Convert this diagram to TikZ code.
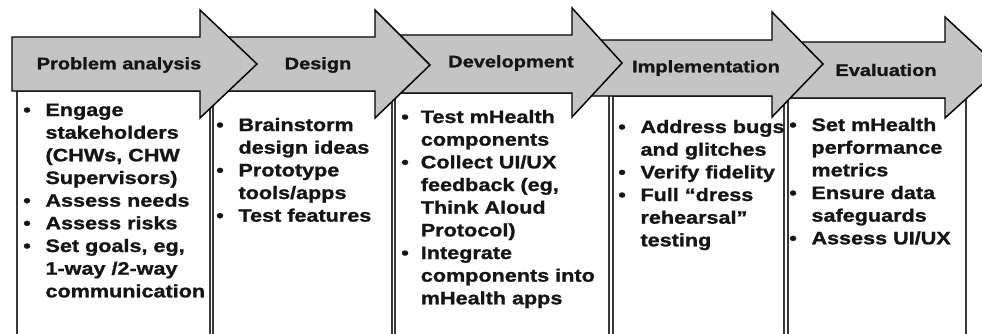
\documentclass[tikz,border=0pt]{standalone}
\usepackage{fontspec}
\setmainfont{Liberation Sans}[FakeStretch=1.2, BoldFeatures={FakeBold=1.2}]
\usepackage{tikz}
\usetikzlibrary{positioning}
\definecolor{arrowgray}{HTML}{C4C4C4}
\definecolor{inkgray}{HTML}{151515}
\tikzstyle{stage_arrow} = [fill=arrowgray, draw=black, line width=1.1pt, line join=miter]
\tikzstyle{stage_box} = [draw=inkgray!85, line width=1.6pt, fill=white]
\tikzstyle{stage_head} = [inner sep=0pt, text=inkgray, font=\fontsize{12.5}{14}\selectfont\bfseries]
\tikzstyle{stage_list} = [inner sep=0pt, anchor=base west, text=inkgray, align=left, font=\fontsize{13.5}{17}\selectfont\bfseries]

\begin{document}
\begin{tikzpicture}[x=0.75pt, y=-0.75pt]
\clip (0,0) rectangle (982,333);
\fill[white] (0,0) rectangle (982,333);

% boxes under the arrows
\draw[stage_box] (17,91) rectangle (210,345);
\draw[stage_box] (213,91) rectangle (392,345);
\draw[stage_box] (395,93) rectangle (609,345);
\draw[stage_box] (613,96) rectangle (784,345);
\draw[stage_box] (788,98) rectangle (966,345);

% arrows, last one first
\filldraw[stage_arrow] (780,42) -- (945,42) -- (945,17) -- (1000,68) -- (945,118) -- (945,98) -- (780,98) -- cycle;
\filldraw[stage_arrow] (585,40) -- (772,40) -- (772,12) -- (823,64) -- (772,117) -- (772,96) -- (585,96) -- cycle;
\filldraw[stage_arrow] (385,35) -- (572,35) -- (572,8) -- (622,63) -- (572,117) -- (572,93) -- (385,93) -- cycle;
\filldraw[stage_arrow] (215,37) -- (375,37) -- (375,10) -- (430,65) -- (375,118) -- (375,91) -- (215,91) -- cycle;
\filldraw[stage_arrow] (12,37) -- (200,37) -- (200,10) -- (257,64) -- (200,118) -- (200,91) -- (12,91) -- cycle;

% stage names
\node[stage_head] (pa_head) at (119,65) {Problem analysis};
\node[stage_head] (de_head) at (318,65) {Design};
\node[stage_head] (dv_head) at (511,63) {Development};
\node[stage_head] (im_head) at (706,68) {Implementation};
\node[stage_head] (ev_head) at (886,70) {Evaluation};

% bullet lists
\node[stage_list] (pa_list) at (23,116) {\begin{tabular}[t]{@{}l@{\hspace{11pt}}l@{}}
\textbullet & Engage\\ & stakeholders\\ & (CHWs, CHW\\ & Supervisors)\\
\textbullet & Assess needs\\
\textbullet & Assess risks\\
\textbullet & Set goals, eg,\\ & 1-way /2-way\\ & communication
\end{tabular}};
\node[stage_list] (de_list) at (216,131) {\begin{tabular}[t]{@{}l@{\hspace{11pt}}l@{}}
\textbullet & Brainstorm\\ & design ideas\\
\textbullet & Prototype\\ & tools/apps\\
\textbullet & Test features
\end{tabular}};
\node[stage_list] (dv_list) at (401,123) {\begin{tabular}[t]{@{}l@{\hspace{9pt}}l@{}}
\textbullet & Test mHealth\\ & components\\
\textbullet & Collect UI/UX\\ & feedback (eg,\\ & Think Aloud\\ & Protocol)\\
\textbullet & Integrate\\ & components into\\ & mHealth apps
\end{tabular}};
\node[stage_list] (im_list) at (618,133) {\begin{tabular}[t]{@{}l@{\hspace{11pt}}l@{}}
\textbullet & Address bugs\\ & and glitches\\
\textbullet & Verify fidelity\\
\textbullet & Full “dress\\ & rehearsal”\\ & testing
\end{tabular}};
\node[stage_list] (ev_list) at (789,131) {\begin{tabular}[t]{@{}l@{\hspace{11pt}}l@{}}
\textbullet & Set mHealth\\ & performance\\ & metrics\\
\textbullet & Ensure data\\ & safeguards\\
\textbullet & Assess UI/UX
\end{tabular}};
\end{tikzpicture}
\end{document}
